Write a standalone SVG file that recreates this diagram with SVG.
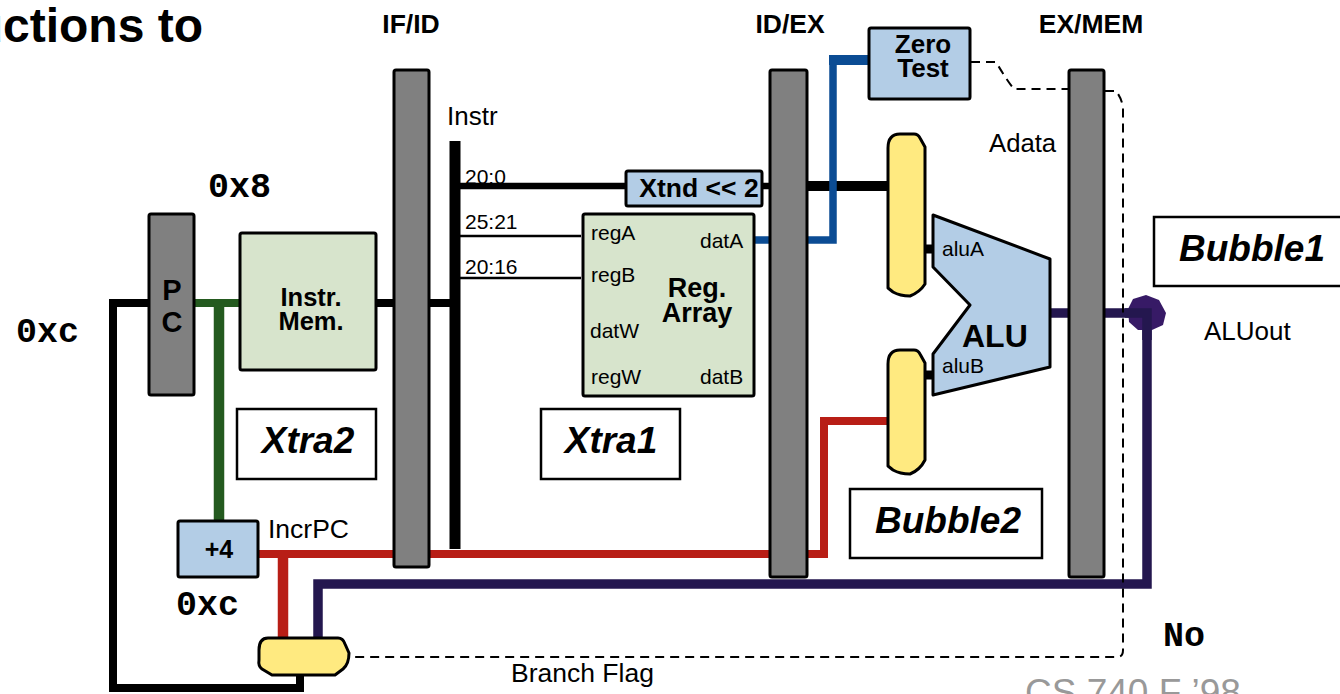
<svg xmlns="http://www.w3.org/2000/svg" width="1340" height="694" viewBox="0 0 1340 694">
<style>
text{font-family:"Liberation Sans",Arial,sans-serif;fill:#000}
.b{font-weight:bold}
.m{font-family:"Liberation Mono","Courier New",monospace;font-weight:bold;font-size:35px}
.bi{font-weight:bold;font-style:italic;font-size:37px;text-anchor:middle}
.s{font-size:21px}
.c{text-anchor:middle}
.reg{fill:#808080;stroke:#000;stroke-width:3;stroke-linejoin:round}
.blue{fill:#b3cde6;stroke:#000;stroke-width:3;stroke-linejoin:round}
.green{fill:#d7e4cc;stroke:#000;stroke-width:3;stroke-linejoin:round}
.mux{fill:#ffea80;stroke:#000;stroke-width:3;stroke-linejoin:round}
.box{fill:#fff;stroke:#000;stroke-width:2.5}
.w{fill:none;stroke-linejoin:miter}
</style>
<text class="b" x="203" y="42" font-size="48" text-anchor="end">uctions to</text>
<g id="connectors">
<path class="w" stroke="#000" stroke-width="8" d="M150 303H113V688H300V672"/>
<path class="w" stroke="#245a1f" stroke-width="8" d="M193 303H240"/>
<path class="w" stroke="#245a1f" stroke-width="10.5" d="M219 303V521"/>
<path class="w" stroke="#000" stroke-width="8" d="M375 303H394M428 303H455"/>
<path class="w" stroke="#000" stroke-width="11" d="M455 141V549"/>
<path class="w" stroke="#000" stroke-width="6.5" d="M460 186H627M760 186H771"/>
<path class="w" stroke="#000" stroke-width="10" d="M807 186H887"/>
<path class="w" stroke="#000" stroke-width="2.5" d="M460 236H581M460 278H581"/>
<path class="w" stroke="#0b4c94" stroke-width="7.5" d="M754 240H771M807 240H833V60"/>
<path class="w" stroke="#0b4c94" stroke-width="10" d="M829 60H868"/>
<path class="w" stroke="#b81e16" stroke-width="8" d="M259 554H394M429 554H771M807 554H824V421H887"/>
<path class="w" stroke="#b81e16" stroke-width="10.5" d="M283 554V638"/>
<path class="w" stroke="#000" stroke-width="9" d="M925 249H933M925 375H933"/>
<path class="w" stroke="#24174f" stroke-width="9.5" d="M1050 313H1069M1104 313H1147V584H318V638"/>
<path id="hazard" class="w" stroke="#000" stroke-width="2" stroke-dasharray="9 6" d="M971 62H996C1002 72 1008 82 1014 89H1068M1105 91H1116C1119 95 1122 100 1123 108V650C1123 655 1121 657 1117 657H348"/>
</g>
<polygon id="joint" fill="#371a66" points="1146,295 1159,300 1166,313 1163,325 1152,330 1138,330 1129,322 1128,309 1133,299"/>
<path class="w" stroke="#24174f" stroke-width="9.5" d="M1125 313H1147V340"/>
<g id="pc"><rect class="reg" x="149" y="214" width="45" height="181" rx="2"/><text class="b c" x="172" font-size="29"><tspan x="172" y="300">P</tspan><tspan x="172" y="332">C</tspan></text></g>
<g id="ifid"><rect class="reg" x="394" y="70" width="35" height="497" rx="2"/></g>
<g id="idex"><rect class="reg" x="770" y="70" width="37" height="507" rx="2"/></g>
<g id="exmem"><rect class="reg" x="1069" y="70" width="35" height="507" rx="2"/></g>
<g id="imem"><rect class="green" x="240" y="233" width="136" height="137" rx="2"/><text class="b c" font-size="25.5"><tspan x="311" y="306">Instr.</tspan><tspan x="311" y="330">Mem.</tspan></text></g>
<g id="regarray"><rect class="green" x="583" y="214" width="171" height="182" rx="2"/>
<text class="s" x="591" y="240">regA</text><text class="s" x="591" y="282">regB</text><text class="s" x="590" y="338">datW</text><text class="s" x="591" y="384">regW</text><text class="s" x="700" y="248">datA</text><text class="s" x="700" y="384">datB</text>
<text class="b c" font-size="27"><tspan x="697" y="297">Reg.</tspan><tspan x="697" y="322">Array</tspan></text></g>
<g id="xtnd"><rect class="blue" x="626" y="171" width="136" height="35" rx="2"/><text class="b c" x="699" y="197" font-size="26.5">Xtnd &lt;&lt; 2</text></g>
<g id="zero"><rect class="blue" x="869" y="28" width="101" height="71" rx="2"/><text class="b c" font-size="26"><tspan x="923" y="53">Zero</tspan><tspan x="923" y="77">Test</tspan></text></g>
<g id="incr"><rect class="blue" x="178" y="521" width="80" height="56" rx="2"/><text class="b c" x="219" y="558" font-size="25">+4</text></g>
<g id="muxa"><path class="mux" d="M888 148Q888 134 900 134H914Q918 134 920 138L925 147V284Q920 292 910 296Q900 296 893 292L888 288Z"/></g>
<g id="muxb"><path class="mux" d="M888 364Q888 350 900 350H914Q918 350 920 354L925 363V460Q920 470 910 474Q900 474 893 470L888 466Z"/></g>
<g id="muxc"><path class="mux" d="M259 650Q259 638 268 638H338Q343 638 345 644L349 653Q349 664 343 669L335 675H272L262 669Q258 666 259 660Z"/></g>
<g id="alu"><polygon class="blue" points="933,215 1050,259 1050,367 933,395 933,354 970,305 933,267"/><text class="s" x="942" y="256">aluA</text><text class="s" x="942" y="373">aluB</text><text class="b" x="962" y="347" font-size="32">ALU</text></g>
<g id="xtra2"><rect class="box" x="237" y="409" width="139" height="70"/><text class="bi" x="308" y="453">Xtra2</text></g>
<g id="xtra1"><rect class="box" x="541" y="409" width="139" height="70"/><text class="bi" x="611" y="453">Xtra1</text></g>
<g id="bubble2"><rect class="box" x="850" y="489" width="192" height="69"/><text class="bi" x="948" y="533">Bubble2</text></g>
<g id="bubble1"><rect class="box" x="1154" y="217" width="190" height="69"/><text class="bi" x="1252" y="261">Bubble1</text></g>
<text class="b c" x="411" y="33" font-size="26.5">IF/ID</text>
<text class="b c" x="790" y="33" font-size="26.5">ID/EX</text>
<text class="b c" x="1091" y="33" font-size="26.5">EX/MEM</text>
<text x="447" y="125" font-size="26">Instr</text>
<text class="s" x="465" y="184">20:0</text>
<text class="s" x="465" y="229">25:21</text>
<text class="s" x="465" y="274">20:16</text>
<text x="989" y="152" font-size="25.7">Adata</text>
<text x="1204" y="340" font-size="26">ALUout</text>
<text x="268" y="538" font-size="26.5">IncrPC</text>
<text x="511" y="682" font-size="26.5">Branch Flag</text>
<text class="m" x="208" y="197">0x8</text>
<text class="m" x="16" y="342">0xc</text>
<text class="m" x="176" y="615">0xc</text>
<text class="m" x="1163" y="646">No</text>
<text x="1025" y="705" font-size="37" style="fill:#999">CS 740 F ’98</text>
</svg>
